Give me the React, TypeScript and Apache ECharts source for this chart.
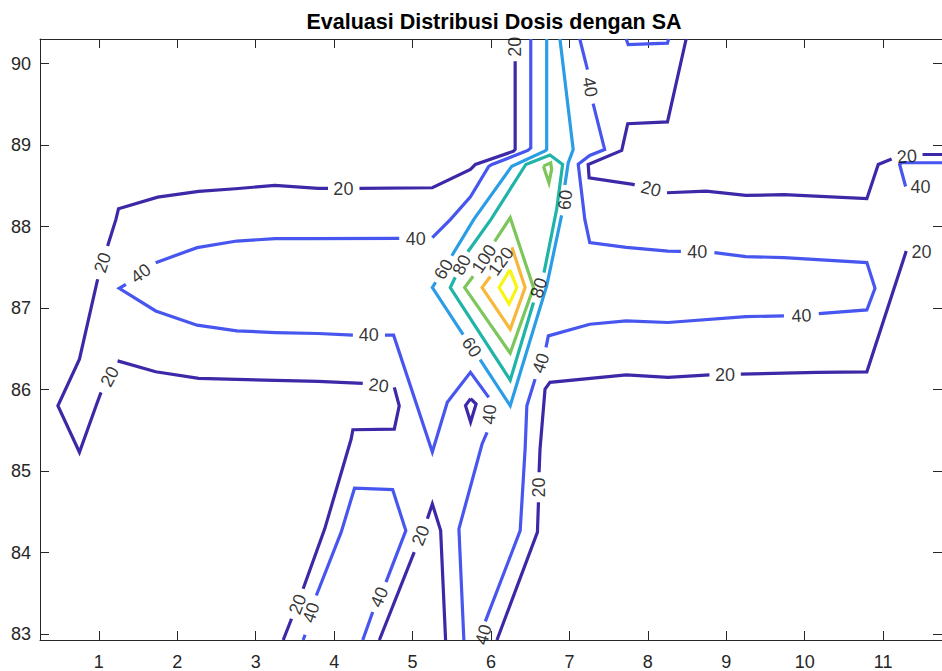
import React, { useEffect, useRef } from "react";
import * as echarts from "echarts";

type Pt = [number, number];
type Lbl = [number, number, number]; // x, y, text angle along the contour

const FONT = "'Liberation Sans', Arial, Helvetica, sans-serif";

const titleText = "Evaluasi Distribusi Dosis dengan SA";

const xTicks = [1, 2, 3, 4, 5, 6, 7, 8, 9, 10, 11];
const yTicks = [83, 84, 85, 86, 87, 88, 89, 90];
const xRange: Pt = [0.25, 11.75];
const yRange: Pt = [82.926, 90.303];

const levels = [20, 40, 60, 80, 100, 120, 140];
const levelColors = ["#3c29a8", "#4756ef", "#2b9de6", "#20b4a8", "#7cc65c", "#f9b73a", "#f8f514"];

// Contour pieces per level; pieces are split where an inline label sits.
const contour20: Pt[][] = [
  [[3.351, 82.926], [3.457, 83.187]],
  [[3.605, 83.555], [3.88, 84.29], [4.217, 85.393], [4.239, 85.507], [4.767, 85.515], [4.83, 85.801], [4.767, 86.026]],
  [[4.365, 86.075], [3.795, 86.1], [2.274, 86.137], [1.725, 86.218], [1.239, 86.352]],
  [[1.028, 85.965], [0.965, 85.801], [0.753, 85.23], [0.478, 85.801], [0.753, 86.373], [0.985, 87.354]],
  [[1.112, 87.762], [1.218, 88.089], [1.251, 88.22], [1.751, 88.362], [2.274, 88.432], [2.739, 88.465], [3.246, 88.506], [3.795, 88.469], [3.922, 88.469]],
  [[4.323, 88.469], [5.252, 88.477], [5.738, 88.702], [5.801, 88.763], [6.288, 88.926], [6.308, 88.947], [6.308, 90.029]],
  [[8.488, 90.303], [8.25, 89.286], [7.743, 89.263], [7.667, 88.935], [7.239, 88.763], [7.251, 88.6], [7.809, 88.518], [7.832, 88.512]],
  [[8.244, 88.416], [8.742, 88.436], [9.249, 88.383], [9.735, 88.392], [10.792, 88.343], [10.937, 88.763], [11.108, 88.83]],
  [[11.502, 88.885], [11.75, 88.885]],
  [[11.294, 87.7], [10.792, 86.218], [10.158, 86.211], [9.185, 86.19]],
  [[8.785, 86.181], [8.256, 86.149], [7.724, 86.181], [6.752, 86.088], [6.689, 86.006], [6.625, 85.27], [6.613, 84.985]],
  [[6.605, 84.617], [6.592, 84.25], [6.076, 82.926]],
  [[4.577, 82.926], [5.021, 84.004]],
  [[5.189, 84.413], [5.252, 84.596], [5.358, 84.269], [5.421, 82.926]],
  [[5.74, 85.889], [5.81, 85.822], [5.74, 85.601], [5.675, 85.803], [5.74, 85.889]],
];

const contour40: Pt[][] = [
  [[6.507, 90.303], [6.507, 88.965], [6.469, 88.935], [6.013, 88.763], [5.971, 88.739], [5.738, 88.367], [5.484, 88.089], [5.252, 87.865]],
  [[4.83, 87.856], [3.668, 87.852], [3.246, 87.852], [2.759, 87.823], [2.253, 87.742], [1.725, 87.558]],
  [[1.345, 87.292], [1.26, 87.243], [1.725, 86.965], [2.253, 86.79], [2.759, 86.72], [3.246, 86.7], [3.795, 86.688], [4.239, 86.667]],
  [[4.648, 86.667], [4.758, 86.667], [5.252, 85.234], [5.443, 85.843], [5.738, 86.211], [5.971, 85.904]],
  [[5.95, 85.475], [5.886, 85.332], [5.591, 84.29], [5.654, 82.926]],
  [[3.605, 82.926], [3.63, 82.991]],
  [[3.773, 83.472], [4.09, 84.25], [4.26, 84.789], [4.746, 84.772], [4.914, 84.269], [4.661, 83.637]],
  [[4.492, 83.269], [4.365, 82.926]],
  [[7.132, 90.303], [7.23, 89.927]],
  [[7.302, 89.51], [7.449, 88.947], [7.259, 88.873], [7.112, 88.767], [7.196, 88.089], [7.259, 87.803], [7.724, 87.746], [8.256, 87.7], [8.421, 87.697]],
  [[8.848, 87.681], [9.249, 87.632], [9.735, 87.62], [10.792, 87.558], [10.896, 87.243], [10.792, 86.977], [10.179, 86.933]],
  [[9.735, 86.904], [9.249, 86.896], [8.256, 86.823], [7.724, 86.843], [7.259, 86.802], [6.731, 86.659], [6.701, 86.517]],
  [[6.562, 86.128], [6.457, 85.801], [6.435, 85.27], [6.372, 84.269], [5.928, 83.154]],
  [[7.724, 90.303], [7.749, 90.233], [8.25, 90.252], [8.263, 90.303]],
  [[11.75, 88.784], [11.235, 88.784], [11.21, 88.763], [11.286, 88.493]],
];

const contour60: Pt[][] = [
  [[6.71, 90.303], [6.71, 88.947], [6.689, 88.928], [6.266, 88.742], [5.781, 88.089], [5.5, 87.642]],
  [[5.294, 87.317], [5.252, 87.252], [5.645, 86.674]],
  [[5.861, 86.367], [6.245, 85.801], [6.71, 87.272], [6.9, 88.138]],
  [[6.942, 88.512], [6.985, 88.784], [7.048, 88.947], [6.879, 90.303]],
];

const contour80: Pt[][] = [
  [[6.676, 87.436], [6.837, 88.212], [6.913, 88.763], [6.752, 88.879], [6.444, 88.763], [6.0, 88.089], [5.705, 87.692]],
  [[5.544, 87.378], [5.481, 87.252], [6.245, 86.116], [6.542, 87.068]],
];

const contour100: Pt[][] = [
  [[6.047, 87.819], [6.245, 88.11], [6.542, 87.252], [6.245, 86.447], [5.664, 87.252], [5.772, 87.39]],
  [[6.668, 88.742], [6.761, 88.784], [6.773, 88.702], [6.739, 88.539], [6.668, 88.742]],
];

const contour120: Pt[][] = [
  [[6.267, 87.746], [6.435, 87.252], [6.245, 86.741], [5.886, 87.252], [5.991, 87.387]],
];

const contour140: Pt[][] = [
  [[6.241, 87.47], [6.33, 87.252], [6.231, 87.051], [6.104, 87.252], [6.241, 87.47]],
];

// Inline level labels
const labels20: Lbl[] = [
  [6.311, 90.209, 90], [4.118, 88.463, 0], [1.048, 87.558, 72], [1.14, 86.159, 62],
  [4.568, 86.049, -7], [3.535, 83.365, 69], [5.104, 84.208, 68], [8.038, 88.464, -14],
  [11.304, 88.861, 5], [8.985, 86.183, 0], [6.615, 84.799, 90], [11.489, 87.685, 0],
];
const labels40: Lbl[] = [
  [7.261, 89.713, -80], [5.041, 87.844, 0], [1.535, 87.425, 36], [4.441, 86.667, 0],
  [5.981, 85.693, 85], [4.577, 83.453, 66], [3.706, 83.261, 72], [8.63, 87.685, 0],
  [9.958, 86.906, 3], [6.634, 86.324, 71], [5.905, 82.991, 74], [11.476, 88.481, 0],
];
const labels60: Lbl[] = [[5.396, 87.476, 58], [5.753, 86.52, -56], [6.948, 88.328, 84]];
const labels80: Lbl[] = [[5.627, 87.531, 64], [6.609, 87.249, 72]];
const labels100: Lbl[] = [[5.912, 87.605, 57]];
const labels120: Lbl[] = [[6.127, 87.574, 54]];
const labels140: Lbl[] = [];

const contours = [contour20, contour40, contour60, contour80, contour100, contour120, contour140];
const labelSets = [labels20, labels40, labels60, labels80, labels100, labels120, labels140];

function buildOption(): echarts.EChartsCoreOption {
  const axisColor = "#262626";
  const series: any[] = [];

  levels.forEach((lv, i) => {
    contours[i].forEach((piece) => {
      series.push({
        type: "line",
        data: piece,
        symbol: "none",
        showSymbol: false,
        silent: true,
        clip: true,
        z: 2,
        lineStyle: { color: levelColors[i], width: 3.2, join: "miter" },
      });
    });
    if (labelSets[i].length) {
      series.push({
        type: "scatter",
        silent: true,
        z: 5,
        symbolSize: 1,
        itemStyle: { color: "rgba(0,0,0,0)" },
        data: labelSets[i].map(([x, y, r]) => ({ value: [x, y], label: { rotate: r } })),
        label: {
          show: true,
          position: "inside",
          formatter: String(lv),
          color: "#000",
          fontSize: 18,
          fontFamily: FONT,
        },
      });
    }
  });

  const xCommon = {
    type: "value",
    min: xRange[0],
    max: xRange[1],
    splitLine: { show: false },
    axisLine: { show: true, onZero: false, lineStyle: { color: axisColor, width: 1 } },
    axisTick: { show: true, inside: true, length: 9, customValues: xTicks, lineStyle: { color: axisColor } },
  };
  const yCommon = {
    type: "value",
    min: yRange[0],
    max: yRange[1],
    splitLine: { show: false },
    axisLine: { show: true, onZero: false, lineStyle: { color: axisColor, width: 1 } },
    axisTick: { show: true, inside: true, length: 9, customValues: yTicks, lineStyle: { color: axisColor } },
  };

  return {
    animation: false,
    backgroundColor: "#fff",
    grid: { left: 40, top: 39, width: 907.5, height: 602, containLabel: false },
    graphic: [
      {
        type: "text",
        x: 494,
        y: 22,
        style: {
          text: titleText,
          align: "center",
          verticalAlign: "middle",
          fill: "#000",
          font: `bold 21.5px ${FONT}`,
        },
      },
    ],
    xAxis: [
      {
        ...xCommon,
        position: "bottom",
        axisLabel: { customValues: xTicks, color: axisColor, fontSize: 18, fontFamily: FONT, margin: 13 },
      },
      { ...xCommon, position: "top", axisLabel: { show: false } },
    ],
    yAxis: [
      {
        ...yCommon,
        position: "left",
        axisLabel: { customValues: yTicks, color: axisColor, fontSize: 18, fontFamily: FONT, margin: 9 },
      },
      { ...yCommon, position: "right", axisLabel: { show: false } },
    ],
    series,
  };
}

export default function App() {
  const ref = useRef<HTMLDivElement>(null);

  useEffect(() => {
    if (!ref.current) return;
    const chart = echarts.init(ref.current, undefined, { renderer: "svg" });
    chart.setOption(buildOption());
    return () => chart.dispose();
  }, []);

  return (
    <div
      ref={ref}
      style={{ position: "absolute", left: 0, top: 0, width: 942, height: 671, background: "#fff" }}
    />
  );
}
